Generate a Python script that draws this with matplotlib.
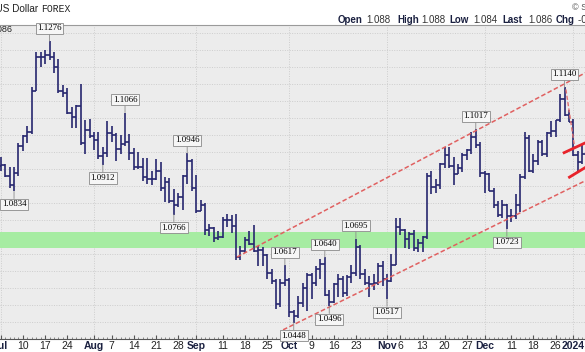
import numpy as np
import pandas as pd
import matplotlib
matplotlib.use("Agg")
import matplotlib.pyplot as plt

plt.rcParams['font.family'] = ['Liberation Sans', 'DejaVu Sans']

# daily bars, forex (no bar on Dec 25 and Jan 1)
days = pd.bdate_range("2023-07-03", "2024-01-04")
days = days.drop([pd.Timestamp("2023-12-25"), pd.Timestamp("2024-01-01")])

opens = [1.0910, 1.0912, 1.0880, 1.0852, 1.0889, 1.0968, 1.0998, 1.1010, 1.1130, 1.1228,
         1.1228, 1.1236, 1.1228, 1.1200, 1.1130, 1.1124, 1.1065, 1.1054, 1.1086, 1.0975,
         1.1016, 1.0997, 1.0985, 1.0938, 1.0946, 1.1007, 1.1001, 1.0958, 1.0973, 1.0980,
         1.0948, 1.0906, 1.0906, 1.0875, 1.0872, 1.0871, 1.0894, 1.0845, 1.0862, 1.0807,
         1.0794, 1.0818, 1.0880, 1.0924, 1.0844, 1.0775, 1.0794, 1.0722, 1.0725, 1.0697,
         1.0700, 1.0750, 1.0751, 1.0732, 1.0642, 1.0659, 1.0690, 1.0678, 1.0659, 1.0661,
         1.0646, 1.0593, 1.0571, 1.0502, 1.0566, 1.0573, 1.0478, 1.0469, 1.0505, 1.0549,
         1.0588, 1.0564, 1.0605, 1.0620, 1.0530, 1.0509, 1.0562, 1.0577, 1.0535, 1.0582,
         1.0595, 1.0670, 1.0590, 1.0565, 1.0563, 1.0565, 1.0615, 1.0575, 1.0570, 1.0619,
         1.0728, 1.0722, 1.0695, 1.0710, 1.0668, 1.0683, 1.0700, 1.0880, 1.0848, 1.0852,
         1.0915, 1.0940, 1.0910, 1.0886, 1.0903, 1.0940, 1.0955, 1.0995, 1.0970, 1.0888,
         1.0885, 1.0836, 1.0795, 1.0765, 1.0793, 1.0762, 1.0762, 1.0794, 1.0875, 1.0990,
         1.0895, 1.0923, 1.0980, 1.0943, 1.1005, 1.1012, 1.1043, 1.1105, 1.1060, 1.1039,
         1.0941, 1.0920]
highs = [1.0935, 1.0915, 1.0905, 1.0905, 1.0975, 1.1000, 1.1027, 1.1140, 1.1244, 1.1245,
         1.1249, 1.1276, 1.1244, 1.1223, 1.1146, 1.1137, 1.1081, 1.1087, 1.1149, 1.1043,
         1.1046, 1.1010, 1.1008, 1.0965, 1.1042, 1.1025, 1.1005, 1.1000, 1.1066, 1.1002,
         1.0962, 1.0950, 1.0933, 1.0931, 1.0895, 1.0929, 1.0922, 1.0875, 1.0873, 1.0840,
         1.0830, 1.0882, 1.0946, 1.0930, 1.0882, 1.0810, 1.0799, 1.0737, 1.0728, 1.0718,
         1.0760, 1.0768, 1.0766, 1.0768, 1.0674, 1.0700, 1.0718, 1.0736, 1.0674, 1.0670,
         1.0650, 1.0607, 1.0577, 1.0575, 1.0617, 1.0578, 1.0485, 1.0525, 1.0565, 1.0594,
         1.0593, 1.0616, 1.0635, 1.0640, 1.0545, 1.0565, 1.0590, 1.0585, 1.0587, 1.0618,
         1.0695, 1.0676, 1.0606, 1.0585, 1.0590, 1.0623, 1.0630, 1.0590, 1.0650, 1.0756,
         1.0756, 1.0723, 1.0714, 1.0720, 1.0694, 1.0704, 1.0887, 1.0895, 1.0872, 1.0917,
         1.0965, 1.0965, 1.0935, 1.0915, 1.0946, 1.0960, 1.1010, 1.1017, 1.0980, 1.0895,
         1.0889, 1.0845, 1.0805, 1.0810, 1.0797, 1.0783, 1.0826, 1.0885, 1.1010, 1.1000,
         1.0945, 1.0985, 1.0985, 1.1010, 1.1040, 1.1045, 1.1120, 1.1140, 1.1074, 1.1046,
         1.0954, 1.0970]
lows = [1.0893, 1.0875, 1.0845, 1.0834, 1.0880, 1.0952, 1.0976, 1.1003, 1.1128, 1.1201,
        1.1209, 1.1220, 1.1181, 1.1124, 1.1112, 1.1062, 1.1021, 1.1020, 1.0970, 1.0945,
        1.0990, 1.0955, 1.0930, 1.0912, 1.0935, 1.0980, 1.0924, 1.0945, 1.0967, 1.0927,
        1.0896, 1.0901, 1.0866, 1.0856, 1.0853, 1.0867, 1.0835, 1.0802, 1.0800, 1.0766,
        1.0788, 1.0780, 1.0857, 1.0834, 1.0771, 1.0775, 1.0705, 1.0702, 1.0686, 1.0690,
        1.0697, 1.0730, 1.0712, 1.0631, 1.0632, 1.0653, 1.0675, 1.0655, 1.0616, 1.0615,
        1.0575, 1.0562, 1.0488, 1.0495, 1.0556, 1.0465, 1.0448, 1.0461, 1.0495, 1.0483,
        1.0518, 1.0557, 1.0577, 1.0525, 1.0496, 1.0505, 1.0524, 1.0523, 1.0525, 1.0564,
        1.0584, 1.0576, 1.0559, 1.0524, 1.0545, 1.0558, 1.0555, 1.0517, 1.0567, 1.0617,
        1.0705, 1.0667, 1.0664, 1.0660, 1.0656, 1.0655, 1.0695, 1.0826, 1.0828, 1.0840,
        1.0903, 1.0903, 1.0852, 1.0885, 1.0890, 1.0925, 1.0945, 1.0963, 1.0875, 1.0828,
        1.0835, 1.0785, 1.0760, 1.0755, 1.0723, 1.0743, 1.0752, 1.0773, 1.0870, 1.0890,
        1.0888, 1.0912, 1.0937, 1.0935, 1.0995, 1.0995, 1.1037, 1.1055, 1.1038, 1.0939,
        1.0893, 1.0915]
closes = [1.0912, 1.0880, 1.0852, 1.0889, 1.0968, 1.0998, 1.1010, 1.1130, 1.1228, 1.1228,
          1.1236, 1.1228, 1.1200, 1.1130, 1.1124, 1.1065, 1.1054, 1.1086, 1.0975, 1.1016,
          1.0997, 1.0985, 1.0938, 1.0946, 1.1007, 1.1001, 1.0958, 1.0973, 1.0980, 1.0948,
          1.0906, 1.0906, 1.0875, 1.0872, 1.0871, 1.0894, 1.0845, 1.0862, 1.0807, 1.0794,
          1.0818, 1.0880, 1.0924, 1.0844, 1.0775, 1.0794, 1.0722, 1.0725, 1.0697, 1.0700,
          1.0750, 1.0751, 1.0732, 1.0642, 1.0659, 1.0690, 1.0678, 1.0659, 1.0661, 1.0646,
          1.0593, 1.0571, 1.0502, 1.0566, 1.0573, 1.0478, 1.0469, 1.0505, 1.0549, 1.0588,
          1.0564, 1.0605, 1.0620, 1.0530, 1.0509, 1.0562, 1.0577, 1.0535, 1.0582, 1.0595,
          1.0670, 1.0590, 1.0565, 1.0563, 1.0565, 1.0615, 1.0575, 1.0570, 1.0619, 1.0728,
          1.0722, 1.0695, 1.0710, 1.0668, 1.0683, 1.0700, 1.0880, 1.0848, 1.0852, 1.0915,
          1.0940, 1.0910, 1.0886, 1.0903, 1.0940, 1.0955, 1.0995, 1.0970, 1.0888, 1.0885,
          1.0836, 1.0795, 1.0765, 1.0793, 1.0762, 1.0762, 1.0794, 1.0875, 1.0990, 1.0895,
          1.0923, 1.0980, 1.0943, 1.1005, 1.1012, 1.1043, 1.1105, 1.1060, 1.1039, 1.0941,
          1.0920, 1.0945]

# annotated highs / lows
peak_days = ["2023-07-18", "2023-08-10", "2023-08-30", "2023-09-29", "2023-10-12",
             "2023-10-23", "2023-11-29", "2023-12-28"]
trough_days = ["2023-07-06", "2023-08-03", "2023-08-25", "2023-10-03", "2023-10-13",
               "2023-11-01", "2023-12-08"]

# support zone and drawn trendlines (bar index, price)
zone = (1.0668, 1.0715)
chan_upper_x, chan_upper_y = [53.2, 133.0], [1.0641, 1.1192]
chan_lower_x, chan_lower_y = [63.6, 133.0], [1.0427, 1.0874]
pen_upper_x, pen_upper_y = [126.9, 133.0], [1.0948, 1.0985]
pen_lower_x, pen_lower_y = [128.1, 133.0], [1.0876, 1.0915]
pole_x, pole_y = [127.3, 129.3], [1.1134, 1.0961]

W, H = 585, 352
fig = plt.figure(figsize=(W / 100, H / 100), dpi=100)
ax = fig.add_axes([0, 13 / H, 1, 314 / H])
ax.set_facecolor('#ececec')

x = np.arange(len(days))
o, h, l, c = map(np.array, (opens, highs, lows, closes))

# grid
for v in np.arange(1.040, 1.1351, 0.005):
    ax.axhline(v, color='#cdcdcd', lw=0.7, ls=(0, (1, 1.5)), zorder=0)
new_month = np.r_[True, days.month[1:] != days.month[:-1]]
for i in x[new_month]:
    ax.axvline(i, color='#cdcdcd', lw=0.7, ls=(0, (1, 1.5)), zorder=0)

ax.axhspan(zone[0], zone[1], color='#a6eca2', lw=0, zorder=1)

bar_col = '#27276f'
ax.vlines(x, l, h, color=bar_col, lw=1.2, zorder=3)
ax.hlines(o, x - 0.5, x, color=bar_col, lw=1.2, zorder=3)
ax.hlines(c, x, x + 0.5, color=bar_col, lw=1.2, zorder=3)

ax.plot(chan_upper_x, chan_upper_y, color='#e06060', lw=1.1, ls=(0, (3, 1.6)), zorder=4)
ax.plot(chan_lower_x, chan_lower_y, color='#e06060', lw=1.1, ls=(0, (3, 1.6)), zorder=4)
ax.plot(pole_x, pole_y, color='#e07070', lw=1.0, ls=(0, (3, 1.6)), zorder=4)
ax.plot(pen_upper_x, pen_upper_y, color='#e8232b', lw=2.0, zorder=4)
ax.plot(pen_lower_x, pen_lower_y, color='#e8232b', lw=2.0, zorder=4)

box = dict(boxstyle='square,pad=0.18', fc='#f6f6f6', ec='#8a8a8a', lw=0.6)
arrow = dict(arrowstyle='-', color='#8a8a8a', lw=0.6, shrinkA=0, shrinkB=0)
for d in peak_days:
    i = days.get_loc(pd.Timestamp(d))
    ax.annotate(f"{h[i]:.4f}", (i, h[i]), xytext=(0, 6.5), textcoords='offset points',
                ha='center', va='bottom', fontsize=6.4, family='Liberation Serif',
                bbox=box, arrowprops=arrow, zorder=6)
for d in trough_days:
    i = days.get_loc(pd.Timestamp(d))
    ax.annotate(f"{l[i]:.4f}", (i, l[i]), xytext=(0, -6.5), textcoords='offset points',
                ha='center', va='top', fontsize=6.4, family='Liberation Serif',
                bbox=box, arrowprops=arrow, zorder=6)

# x ticks: month labels at first bar of the month (bold),
# day labels at the first bar of each week unless close to a month label
month_idx = list(x[new_month])
wk = days.to_period('W')
week_idx = [i for i in x if i == 0 or wk[i] != wk[i - 1]]
pos, labs, bold = [], [], []
for j in month_idx:
    pos.append(j)
    labs.append(str(days[j].year) if days[j].month == 1 else days[j].strftime('%b'))
    bold.append(True)
for i in week_idx:
    if min(abs(i - j) for j in month_idx) <= 2:
        continue
    pos.append(i)
    labs.append(str(days[i].day))
    bold.append(False)
order = np.argsort(pos)
pos = [pos[k] for k in order]
labs = [labs[k] for k in order]
bold = [bold[k] for k in order]
ax.set_xticks(pos)
ax.set_xticklabels(labs, fontsize=7.5, color='#222222')
for t, b in zip(ax.get_xticklabels(), bold):
    if b:
        t.set_fontweight('bold')
        t.set_color('#1a2040')
ax.set_xticks(x, minor=True)
ax.tick_params(axis='x', which='major', length=3, direction='in', pad=1.5, color='#555555')
ax.tick_params(axis='x', which='minor', length=1.5, direction='in', color='#777777')
ax.set_yticks([])

ax.set_xlim(-0.16, 131.6)
ax.set_ylim(1.0400, 1.13235)
ax.spines['left'].set_visible(False)
ax.spines['right'].set_visible(False)
ax.spines['top'].set_color('#9a9a9a')
ax.spines['top'].set_linewidth(0.8)
ax.spines['bottom'].set_color('#555555')
ax.spines['bottom'].set_linewidth(0.8)


def fx(px):
    return px / W


def fy(py):
    return 1 - py / H


# legend text inside plot (cut at the left edge)
fig.text(fx(12), fy(30), "$EURUSD (Daily) 1.086", fontsize=6.5, ha='right',
         va='center', color='#222222')

# header
fig.text(fx(38), fy(9), "$EURUSD Euro/US Dollar", ha='right', va='center', fontsize=7.2, color='#222222')
fig.text(fx(41), fy(9), "FOREX", ha='left', va='center', fontsize=7, family='Liberation Mono', color='#222222')
header = [("Open", 338, True), ("1.088", 366, False), ("High", 397, True), ("1.088", 421, False),
          ("Low", 449, True), ("1.084", 473, False), ("Last", 502, True), ("1.086", 528, False),
          ("Chg", 556, True), ("-0.002 (-0.18%)", 578, False)]
for txt, px, b in header:
    fig.text(fx(px), fy(20), txt, ha='left', va='center', fontsize=7,
             fontweight='bold' if b else 'normal', color='#1a2040' if b else '#333333')
fig.text(fx(572), fy(8), "\u00a9 StockCharts.com", ha='left', va='center', fontsize=6.5, color='#555555')

fig.savefig("out.png", dpi=100)
